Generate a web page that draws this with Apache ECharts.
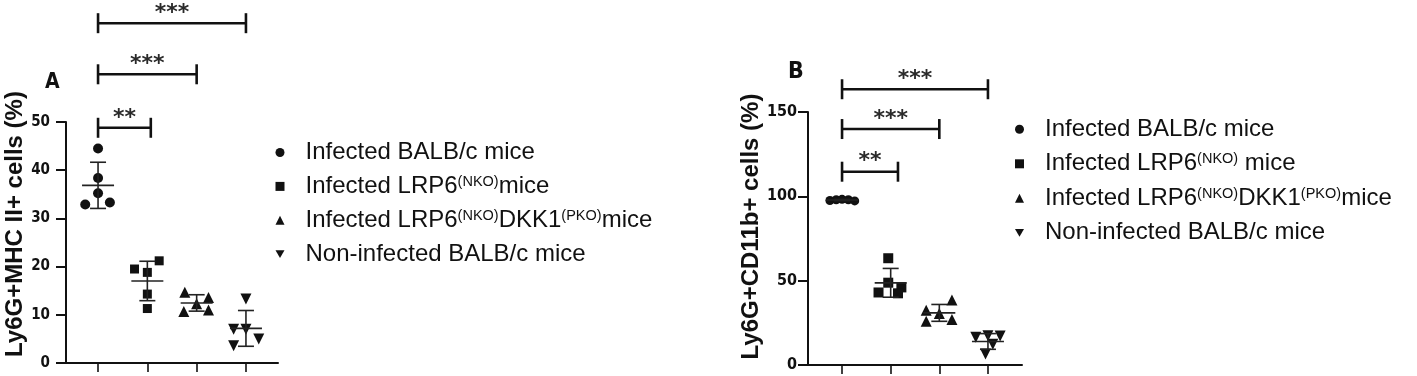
<!DOCTYPE html>
<html>
<head>
<meta charset="utf-8">
<script src="https://cdn.jsdelivr.net/npm/echarts@6/dist/echarts.min.js"></script>
<style>
html, body { margin: 0; padding: 0; background: #fff; }
#chart { width: 1417px; height: 376px; }
</style>
</head>
<body>
<div id="chart"></div>
<script>
// group names as printed in each legend
const namesA = ['Infected BALB/c mice', 'Infected LRP6(NKO)mice', 'Infected LRP6(NKO)DKK1(PKO)mice', 'Non-infected BALB/c mice'];
const namesB = ['Infected BALB/c mice', 'Infected LRP6(NKO) mice', 'Infected LRP6(NKO)DKK1(PKO)mice', 'Non-infected BALB/c mice'];
const groupX = [1, 2, 3, 4];

// Panel A - Ly6G+MHC II+ cells (%)
const aBalb = [44.5, 38.4, 35.2, 32.9, 33.3];
const aLrp6 = [19.5, 21.2, 18.8, 14.3, 11.3];
const aDkk1 = [14.7, 13.6, 12.3, 10.7, 11.0];
const aNonInf = [13.3, 7.0, 7.0, 3.6, 5.0];

// Panel B - Ly6G+CD11b+ cells (%)
const bBalb = [97.5, 98.0, 98.2, 98.0, 97.3];
const bLrp6 = [63.3, 48.8, 46.0, 43.0, 42.5];
const bDkk1 = [38.5, 32.5, 30.5, 26.0, 27.0];
const bNonInf = [16.4, 17.4, 17.2, 12.3, 6.5];

// sideways spread of the dots inside each group (x units)
const spreadA = [[0, 0, 0, -0.26, 0.24], [-0.26, 0.24, 0, 0, 0], [-0.24, 0.24, 0, -0.26, 0.24], [0, -0.25, 0, -0.25, 0.26]];
const spreadB = [[-0.25, -0.12, 0, 0.13, 0.26], [-0.05, -0.05, 0.22, -0.25, 0.15], [0.26, -0.27, 0, -0.27, 0.26], [-0.25, 0, 0.25, 0.1, -0.05]];

// significance brackets: [from group, to group, height, number of stars]
const sigA = [[1, 2.07, 48.8, 2], [1, 3, 59.9, 3], [1, 4, 70.5, 3]];
const sigB = [[1, 2.15, 114.6, 2], [1, 3, 139.9, 3], [1, 4, 163.5, 3]];

const yTicksA = { min: 0, max: 50, interval: 10 };
const yTicksB = { min: 0, max: 150, interval: 50 };

const ink = '#111';
const condensed = '"Liberation Sans Narrow", "DejaVu Sans Condensed", sans-serif';
const arial = '"Liberation Sans", Arial, sans-serif';
const symbols = ['circle', 'rect', 'triangle', 'triangle'];
const rotations = [0, 0, 0, 180];
const legendIcons = ['circle', 'rect', 'triangle', 'path://M0,0L10,0L5,8.66Z'];

function meanSd(arr) {
    const m = arr.reduce((s, v) => s + v, 0) / arr.length;
    const v = arr.reduce((s, x) => s + (x - m) * (x - m), 0) / (arr.length - 1);
    return [m, Math.sqrt(v)];
}

function richName(name) {
    let s = '{t|' + name.replace(/\(([A-Z]+)\)/g, '}{s|($1)}{t|') + '}';
    return s.replace(/\{t\|\}/g, '');
}

function renderErr(params, api) {
    const x = api.value(0), m = api.value(1), sd = api.value(2);
    const c = api.coord([x, m]);
    const top = api.coord([x, m + sd]);
    const bot = api.coord([x, m - sd]);
    const st = { stroke: '#222', lineWidth: 1.6 };
    return {
        type: 'group',
        children: [
            { type: 'line', shape: { x1: c[0] - 16, y1: c[1], x2: c[0] + 16, y2: c[1] }, style: st },
            { type: 'line', shape: { x1: c[0], y1: top[1], x2: c[0], y2: bot[1] }, style: st },
            { type: 'line', shape: { x1: c[0] - 8, y1: top[1], x2: c[0] + 8, y2: top[1] }, style: st },
            { type: 'line', shape: { x1: c[0] - 8, y1: bot[1], x2: c[0] + 8, y2: bot[1] }, style: st }
        ]
    };
}

function renderSig(params, api) {
    const p1 = api.coord([api.value(0), api.value(2)]);
    const p2 = api.coord([api.value(1), api.value(2)]);
    const st = { stroke: ink, lineWidth: 2.6 };
    return {
        type: 'group',
        children: [
            { type: 'line', shape: { x1: p1[0], y1: p1[1], x2: p2[0], y2: p2[1] }, style: st },
            { type: 'line', shape: { x1: p1[0], y1: p1[1] - 10, x2: p1[0], y2: p1[1] + 10 }, style: st },
            { type: 'line', shape: { x1: p2[0], y1: p2[1] - 10, x2: p2[0], y2: p2[1] + 10 }, style: st },
            {
                type: 'text',
                style: {
                    text: '*'.repeat(api.value(3)),
                    x: (p1[0] + p2[0]) / 2, y: p1[1] - 10,
                    align: 'center', verticalAlign: 'middle',
                    font: 'bold 22px "DejaVu Sans"', fill: '#2a2a2a'
                }
            }
        ]
    };
}

function panelSeries(idx, groups, names, spread, sig, sizes) {
    const out = [];
    groups.forEach((vals, g) => {
        out.push({
            name: names[g],
            type: 'scatter',
            xAxisIndex: idx, yAxisIndex: idx,
            symbol: symbols[g],
            symbolRotate: rotations[g],
            symbolSize: sizes[g],
            itemStyle: { color: ink, opacity: 1 },
            z: 3,
            data: vals.map((v, i) => [groupX[g] + spread[g][i], v])
        });
    });
    out.push({
        type: 'custom',
        xAxisIndex: idx, yAxisIndex: idx,
        renderItem: renderErr,
        encode: { x: 0, y: 1 },
        z: 4,
        data: groups.map((vals, g) => [groupX[g]].concat(meanSd(vals)))
    });
    out.push({
        type: 'custom',
        xAxisIndex: idx, yAxisIndex: idx,
        renderItem: renderSig,
        clip: false,
        encode: { x: 0, y: 2 },
        z: 4,
        data: sig
    });
    return out;
}

function yAxisFor(idx, ticks, name, fontSize, margin, shift) {
    return Object.assign({
        gridIndex: idx,
        type: 'value',
        name: name,
        nameLocation: 'middle',
        nameGap: 30,
        nameTextStyle: {
            fontFamily: arial,
            fontWeight: 'bold', fontSize: 24, color: ink,
            padding: [0, 0, 0, shift]
        },
        axisLine: { show: true, lineStyle: { color: ink, width: 2 } },
        axisTick: { show: true, length: 10, lineStyle: { color: ink, width: 2 } },
        axisLabel: { margin: margin, fontFamily: condensed, fontWeight: 'bold', fontSize: fontSize, color: ink },
        splitLine: { show: false }
    }, ticks);
}

function xAxisFor(idx, min, max) {
    return {
        gridIndex: idx,
        type: 'value',
        min: min, max: max,
        axisLine: { show: true, onZero: false, lineStyle: { color: ink, width: 2 } },
        axisTick: { show: true, customValues: groupX, length: 9, lineStyle: { color: ink, width: 1.6 } },
        axisLabel: { show: false },
        splitLine: { show: false }
    };
}

function legendFor(left, top, gap, names) {
    return {
        orient: 'vertical',
        left: left, top: top,
        padding: 0,
        itemGap: gap,
        itemWidth: 9, itemHeight: 9,
        symbolRotate: 0,
        data: names.map((n, i) => ({ name: n, icon: legendIcons[i] })),
        selectedMode: false,
        formatter: richName,
        textStyle: {
            padding: [0, 0, 0, 16],
            rich: {
                t: { fontFamily: arial, fontSize: 24, lineHeight: 24, color: ink, verticalAlign: 'middle' },
                s: { fontFamily: arial, fontSize: 14.5, lineHeight: 14, color: ink, verticalAlign: 'top' }
            }
        }
    };
}

const chart = echarts.init(document.getElementById('chart'), null, { renderer: 'canvas' });
const option = {
    animation: false,
    backgroundColor: '#fff',
    title: [
        { text: 'A', left: 45, top: 72, padding: 0, textStyle: { fontFamily: condensed, fontWeight: 'bold', fontSize: 21, color: ink } },
        { text: 'B', left: 788, top: 61, padding: 0, textStyle: { fontFamily: condensed, fontWeight: 'bold', fontSize: 23, color: ink } }
    ],
    legend: [
        legendFor(275.5, 140.5, 9.9, namesA),
        legendFor(1015, 117.3, 10.5, namesB)
    ],
    grid: [
        { left: 66, top: 122, width: 212, height: 241 },
        { left: 808, top: 112, width: 214, height: 253 }
    ],
    xAxis: [xAxisFor(0, 0.35, 4.65), xAxisFor(1, 0.3, 4.7)],
    yAxis: [
        yAxisFor(0, yTicksA, 'Ly6G+MHC II+ cells (%)', 15, 16, 37),
        yAxisFor(1, yTicksB, 'Ly6G+CD11b+ cells (%)', 16, 11, 24)
    ],
    series: [].concat(
        panelSeries(0, [aBalb, aLrp6, aDkk1, aNonInf], namesA, spreadA, sigA, [10, 9, 11, 11]),
        panelSeries(1, [bBalb, bLrp6, bDkk1, bNonInf], namesB, spreadB, sigB, [9, 10, 11, 11])
    )
};
chart.setOption(option);
window.addEventListener('resize', () => chart.resize());
</script>
</body>
</html>
